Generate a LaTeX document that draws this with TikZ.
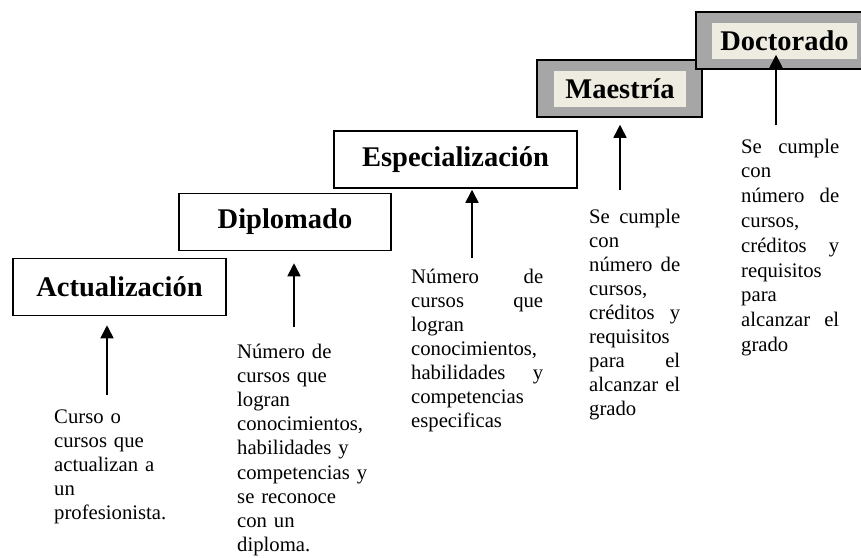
\documentclass[tikz,border=0pt]{standalone}
\usepackage{fontspec}
\setmainfont{Liberation Serif}
\usetikzlibrary{arrows.meta}
\setlength{\parindent}{0pt}
\definecolor{boxgray}{HTML}{A6A6A6}
\definecolor{beige}{HTML}{EEECE1}
\begin{document}
\begin{tikzpicture}[x=1pt,y=-1pt,
  titlebox/.style={draw, line width=1.5pt, font=\fontsize{28.5}{34}\selectfont\bfseries, minimum height=57pt, inner sep=0pt},
  shade/.style={fill=beige, minimum height=36pt, inner sep=0pt, font=\fontsize{28.5}{34}\selectfont\bfseries},
  body/.style={font=\fontsize{20.7}{24}\selectfont, align=left, inner sep=0pt, anchor=base west},
  arr/.style={line width=1.6pt, -{Triangle[width=13pt,length=13pt]}}]
\useasboundingbox (0,0) rectangle (861,557);

% boxes
\node[titlebox, minimum width=213pt] (act) at (119.5,287) {Actualización};
\node[titlebox, minimum width=212pt] (dip) at (285,222) {Diplomado};
\node[titlebox, minimum width=243pt] (esp) at (455.5,159.5) {Especialización};
\node[titlebox, fill=boxgray, minimum width=165pt] (mae) at (619.5,88.5) {};
\node[shade, minimum width=132pt] (maet) at (620,89) {Maestría};
\node[titlebox, fill=boxgray, minimum width=167pt] (doc) at (779.5,40.5) {};
\node[shade, minimum width=145pt] (doct) at (784.5,41) {Doctorado};

% texts
\node[body, text width=160pt] (tact) at (54,423) {Curso o\\cursos que\\actualizan a\\un\\profesionista.};
\node[body, text width=150pt, font=\fontsize{20.7}{24.2}\selectfont] (tdip) at (237,358) {Número de\\cursos que\\logran\\conocimientos,\\habilidades y\\competencias y\\se reconoce\\con un\\diploma.};
\node[body, text width=132pt] (tesp) at (411,283) {Número\hfill de\\cursos\hfill que\\logran\\conocimientos,\\habilidades\hfill y\\competencias\\especificas};
\node[body, text width=91pt] (tmae) at (589,223) {Se\hfill cumple\\con\\número\hfill de\\cursos,\\créditos\hfill y\\requisitos\\para\hfill el\\alcanzar\hfill el\\grado};
\node[body, text width=98pt, font=\fontsize{20.7}{24.8}\selectfont] (tdoc) at (741,153) {Se\hfill cumple\\con\\número\hfill de\\cursos,\\créditos\hfill y\\requisitos\\para\\alcanzar\hfill el\\grado};

% arrows
\coordinate (sA) at (107,395);
\coordinate (sD) at (294,327);
\coordinate (sE) at (472,258);
\coordinate (sM) at (620,190);
\coordinate (sR) at (776,125);
\draw[arr, shorten >=9pt] (sA) -- (sA |- act.south);
\draw[arr, shorten >=12pt] (sD) -- (sD |- dip.south);
\draw[arr, shorten >=1pt] (sE) -- (sE |- esp.south);
\draw[arr, shorten >=7pt] (sM) -- (sM |- mae.south);
\draw[arr, shorten >=-15pt] (sR) -- (sR |- doc.south);
\end{tikzpicture}
\end{document}
